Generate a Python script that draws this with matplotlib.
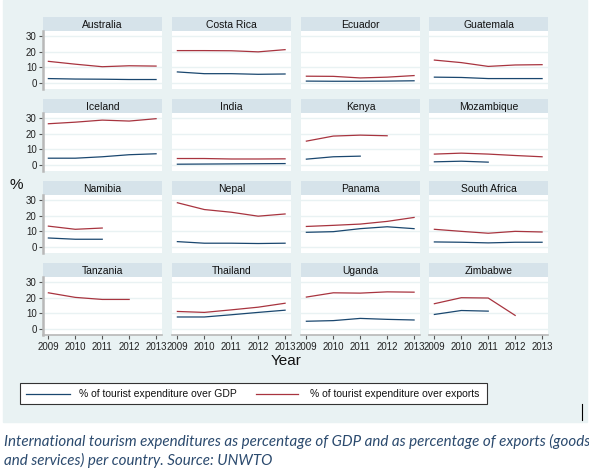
import matplotlib.pyplot as plt
import numpy as np
from matplotlib.patches import Rectangle
from matplotlib.lines import Line2D

plt.rcParams['font.family'] = ['Liberation Sans', 'DejaVu Sans']

# data (nan = no value)
years = [2009, 2010, 2011, 2012, 2013]
countries = ['Australia', 'Costa Rica', 'Ecuador', 'Guatemala',
             'Iceland', 'India', 'Kenya', 'Mozambique',
             'Namibia', 'Nepal', 'Panama', 'South Africa',
             'Tanzania', 'Thailand', 'Uganda', 'Zimbabwe']
nan = np.nan
gdp = {
    'Australia':    [2.9, 2.6, 2.5, 2.3, 2.3],
    'Costa Rica':   [7.1, 6.0, 6.0, 5.6, 5.8],
    'Ecuador':      [1.3, 1.2, 1.2, 1.3, 1.5],
    'Guatemala':    [3.8, 3.6, 2.9, 2.9, 2.9],
    'Iceland':      [4.4, 4.4, 5.3, 6.6, 7.2],
    'India':        [0.6, 0.7, 0.8, 0.9, 1.0],
    'Kenya':        [3.8, 5.3, 5.7, nan, nan],
    'Mozambique':   [2.1, 2.5, 1.9, nan, nan],
    'Namibia':      [5.8, 5.0, 5.0, nan, nan],
    'Nepal':        [3.5, 2.5, 2.5, 2.3, 2.5],
    'Panama':       [9.4, 9.8, 11.7, 12.9, 11.7],
    'South Africa': [3.3, 3.1, 2.7, 3.1, 3.1],
    'Tanzania':     [nan, nan, nan, nan, nan],
    'Thailand':     [7.7, 7.7, 9.1, 10.6, 12.0],
    'Uganda':       [5.0, 5.4, 6.8, 6.2, 5.8],
    'Zimbabwe':     [9.3, 11.8, 11.4, nan, nan],
}
exports = {
    'Australia':    [13.8, 12.0, 10.4, 11.0, 10.8],
    'Costa Rica':   [20.6, 20.6, 20.5, 19.8, 21.2],
    'Ecuador':      [4.4, 4.3, 3.3, 3.8, 4.8],
    'Guatemala':    [14.6, 13.0, 10.6, 11.5, 11.7],
    'Iceland':      [26.2, 27.2, 28.5, 27.9, 29.4],
    'India':        [4.2, 4.2, 3.9, 3.9, 4.0],
    'Kenya':        [15.2, 18.4, 19.0, 18.6, nan],
    'Mozambique':   [7.0, 7.6, 7.0, 6.1, 5.3],
    'Namibia':      [13.3, 11.3, 12.1, nan, nan],
    'Nepal':        [28.1, 23.8, 22.1, 19.6, 21.0],
    'Panama':       [13.1, 13.8, 14.6, 16.3, 18.8],
    'South Africa': [11.3, 10.0, 8.8, 10.0, 9.6],
    'Tanzania':     [23.0, 20.1, 18.8, 18.8, nan],
    'Thailand':     [11.2, 10.6, 12.2, 13.9, 16.4],
    'Uganda':       [20.3, 23.0, 22.8, 23.6, 23.4],
    'Zimbabwe':     [16.1, 19.9, 19.7, 8.7, nan],
}
yticks = [0, 10, 20, 30]

W, H = 589, 473
fig = plt.figure(figsize=(W / 100, H / 100), dpi=100)
fig.patch.set_facecolor('white')

bg = '#e9f2f3'
strip_c = '#d6e3ea'
navy = '#1a476f'
maroon = '#a8343f'

def fx(px):
    return px / W

def fy(py):
    return 1 - py / H

fig.patches.append(Rectangle((fx(3), fy(422)), fx(584), 422 / H,
                             transform=fig.transFigure, color=bg, zorder=-5))

col_left = [43, 172, 301, 429]
row_top = [17, 99, 181, 263]
pw = 119
sh = 14
ph = 58

for i, c in enumerate(countries):
    r, k = divmod(i, 4)
    x0 = col_left[k]
    y0 = row_top[r]
    # strip title
    sa = fig.add_axes([fx(x0), fy(y0 + sh), fx(pw), sh / H])
    sa.set_facecolor(strip_c)
    sa.set_xticks([])
    sa.set_yticks([])
    for s in sa.spines.values():
        s.set_visible(False)
    sa.text(0.5, 0.45, c, ha='center', va='center', fontsize=7.5,
            color='#111111', transform=sa.transAxes)
    # plot area
    ax = fig.add_axes([fx(x0), fy(y0 + sh + ph), fx(pw), ph / H])
    ax.set_facecolor('white')
    ax.plot(years, gdp[c], color=navy, lw=0.9)
    ax.plot(years, exports[c], color=maroon, lw=0.9)
    ax.set_xlim(2008.8, 2013.22)
    ax.set_ylim(-3.7, 33)
    ax.set_yticks(yticks)
    ax.set_xticks(years)
    ax.grid(axis='y', color=bg, lw=1)
    ax.set_axisbelow(True)
    for s in ax.spines.values():
        s.set_visible(False)
    if k == 0:
        ax.spines['left'].set_visible(True)
        ax.spines['left'].set_color('#b8b8b8')
        ax.spines['left'].set_linewidth(1.8)
        ax.tick_params(axis='y', length=3, color='#555555', labelsize=7,
                       labelcolor='#222222', pad=1.5)
    else:
        ax.tick_params(axis='y', length=0, labelleft=False)
    if r == 3:
        ax.spines['bottom'].set_visible(True)
        ax.spines['bottom'].set_color('#b8b8b8')
        ax.spines['bottom'].set_linewidth(1.2)
        ax.tick_params(axis='x', length=3, color='#555555', labelsize=7,
                       labelcolor='#222222', pad=2)
    else:
        ax.tick_params(axis='x', length=0, labelbottom=False)

fig.text(fx(10), fy(185), '%', fontsize=11, ha='left', va='center', color='#111111')
fig.text(fx(286), fy(361), 'Year', fontsize=11, ha='center', va='center', color='#111111')

# legend box
lx0, lx1, ly0, ly1 = 20, 487, 383, 404
fig.patches.append(Rectangle((fx(lx0), fy(ly1)), fx(lx1 - lx0), (ly1 - ly0) / H,
                             transform=fig.transFigure, facecolor='white',
                             edgecolor='#333333', lw=0.8, zorder=2))
ym = fy(393.5)
fig.lines.append(Line2D([fx(26), fx(70)], [ym, ym], color=navy, lw=0.9,
                        transform=fig.transFigure, zorder=3))
fig.text(fx(79), ym, '% of tourist expenditure over GDP', fontsize=7.5,
         va='center', ha='left', color='#111111', zorder=4)
fig.lines.append(Line2D([fx(256), fx(298)], [ym, ym], color=maroon, lw=0.9,
                        transform=fig.transFigure, zorder=3))
fig.text(fx(310), ym, '% of tourist expenditure over exports', fontsize=7.5,
         va='center', ha='left', color='#111111', zorder=4)

fig.lines.append(Line2D([fx(582), fx(582)], [fy(404), fy(420)], color='black',
                        lw=0.8, transform=fig.transFigure))

cap_c = '#2b4a6e'
fig.text(fx(4), fy(441), 'International tourism expenditures as percentage of GDP and as percentage of exports (goods',
         fontsize=10.9, style='italic', family=['Lato', 'DejaVu Sans'], color=cap_c, va='center')
fig.text(fx(4), fy(460), 'and services) per country. Source: UNWTO',
         fontsize=10.9, style='italic', family=['Lato', 'DejaVu Sans'], color=cap_c, va='center')

fig.savefig('out.png', dpi=100)
